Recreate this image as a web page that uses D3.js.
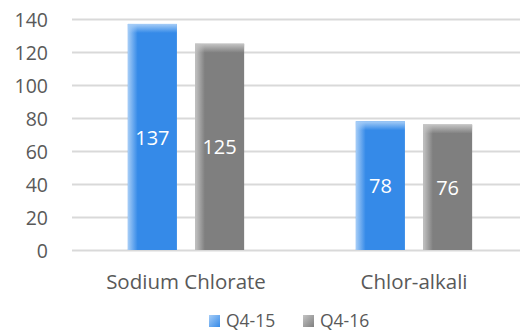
<!DOCTYPE html>
<html>
<head>
<meta charset="utf-8">
<script src="https://cdn.jsdelivr.net/npm/d3@7"></script>
<style>
  html, body { margin: 0; padding: 0; background: #fff; }
  svg { display: block; }
  text { font-family: "Open Sans", "Noto Sans", sans-serif; }
</style>
</head>
<body>
<svg id="chart" width="520" height="333"></svg>
<script>
// Chart data
const categories = ["Sodium Chlorate", "Chlor-alkali"];
const seriesNames = ["Q4-15", "Q4-16"];
const q415 = [137, 78];
const q416 = [125, 76];
const yTicks = [0, 20, 40, 60, 80, 100, 120, 140];

const seriesValues = [q415, q416];
const colors = ["#358ae8", "#7f7f7f"];
const lightColors = ["#a6cdf7", "#c4c4c4"];

const svg = d3.select("#chart");
const W = 520, H = 333;
const margin = { left: 72, right: -8, top: 19, bottom: 83 };

const x = d3.scaleBand()
  .domain(categories)
  .range([margin.left, W - margin.right])
  .paddingInner(0.49)
  .paddingOuter(0.245);

const x1 = d3.scaleBand()
  .domain(seriesNames)
  .range([0, x.bandwidth()])
  .paddingInner(0.27);

const y = d3.scaleLinear()
  .domain([0, 140])
  .range([H - margin.bottom, margin.top]);

// Gradients for the bar bevel
const defs = svg.append("defs");
seriesNames.forEach((s, i) => {
  const gh = defs.append("linearGradient")
    .attr("id", "gh" + i).attr("x1", 0).attr("x2", 1).attr("y1", 0).attr("y2", 0);
  gh.append("stop").attr("offset", 0).attr("stop-color", lightColors[i]).attr("stop-opacity", 1);
  gh.append("stop").attr("offset", 0.2).attr("stop-color", lightColors[i]).attr("stop-opacity", 0);
  const gv = defs.append("linearGradient")
    .attr("id", "gv" + i).attr("x1", 0).attr("x2", 0).attr("y1", 0).attr("y2", 1);
  gv.append("stop").attr("offset", 0).attr("stop-color", lightColors[i]).attr("stop-opacity", 1);
  gv.append("stop").attr("offset", 1).attr("stop-color", lightColors[i]).attr("stop-opacity", 0);
  const gl = defs.append("linearGradient")
    .attr("id", "gl" + i).attr("x1", 0).attr("x2", 1).attr("y1", 0).attr("y2", 1);
  gl.append("stop").attr("offset", 0).attr("stop-color", lightColors[i]);
  gl.append("stop").attr("offset", 1).attr("stop-color", colors[i]);
});

// Gridlines and y tick labels
const yAxis = d3.axisLeft(y).tickValues(yTicks).tickSize(-(W - margin.left)).tickPadding(24);
const yg = svg.append("g")
  .attr("transform", `translate(${margin.left},0)`)
  .call(yAxis);
yg.select(".domain").remove();
yg.selectAll(".tick line").attr("stroke", "#d9d9d9").attr("stroke-width", 2);
yg.selectAll(".tick text")
  .attr("fill", "#595959")
  .attr("font-size", 19.5)
  .attr("font-family", "Open Sans, sans-serif")
  .attr("dy", "0.36em");

// Bars
const groups = svg.append("g").selectAll("g")
  .data(categories)
  .join("g")
  .attr("transform", d => `translate(${x(d)},0)`);

const barData = (c, ci) => seriesNames.map((s, si) => ({ s, si, v: seriesValues[si][ci] }));

groups.each(function (c, ci) {
  const g = d3.select(this);
  const bars = g.selectAll("g.bar").data(barData(c, ci)).join("g").attr("class", "bar");
  bars.append("rect")
    .attr("x", d => x1(d.s)).attr("width", x1.bandwidth())
    .attr("y", d => y(d.v)).attr("height", d => y(0) - y(d.v))
    .attr("fill", d => colors[d.si]);
  bars.append("rect")
    .attr("x", d => x1(d.s)).attr("width", x1.bandwidth())
    .attr("y", d => y(d.v)).attr("height", d => y(0) - y(d.v))
    .attr("fill", d => `url(#gh${d.si})`);
  bars.append("rect")
    .attr("x", d => x1(d.s)).attr("width", x1.bandwidth())
    .attr("y", d => y(d.v)).attr("height", 9)
    .attr("fill", d => `url(#gv${d.si})`);
  bars.append("text")
    .attr("x", d => x1(d.s) + x1.bandwidth() / 2)
    .attr("y", d => (y(d.v) + y(0)) / 2)
    .attr("dy", "0.38em")
    .attr("text-anchor", "middle")
    .attr("fill", "#ffffff")
    .attr("font-size", 20)
    .text(d => d.v);
});

// Category labels
const xAxis = d3.axisBottom(x).tickSize(0);
const xg = svg.append("g")
  .attr("transform", `translate(0,${y(0)})`)
  .call(xAxis);
xg.select(".domain").remove();
xg.selectAll(".tick text")
  .attr("fill", "#595959")
  .attr("font-size", 20.5)
  .attr("font-family", "Open Sans, sans-serif")
  .attr("y", 39)
  .attr("dy", null);

// Legend
const legendX = [209, 303];
const legend = svg.append("g").selectAll("g")
  .data(seriesNames)
  .join("g")
  .attr("transform", (d, i) => `translate(${legendX[i]},315)`);
legend.append("rect")
  .attr("width", 11).attr("height", 12)
  .attr("fill", (d, i) => `url(#gl${i})`);
legend.append("text")
  .attr("x", 17).attr("y", 12)
  .attr("fill", "#595959")
  .attr("font-size", 17.5)
  .text(d => d);
</script>
</body>
</html>
